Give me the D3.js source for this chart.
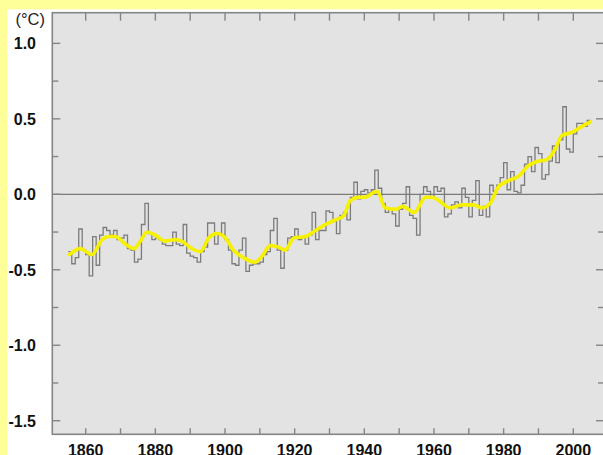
<!DOCTYPE html>
<html><head><meta charset="utf-8">
<script src="https://cdn.jsdelivr.net/npm/d3@7"></script>
<style>html,body{margin:0;padding:0;background:#fff;overflow:hidden}</style>
</head><body>
<svg id="c" width="603" height="455"></svg>
<script>
// ---- data ----
const firstYear = 1856;
const annualAnomaly = [
 -0.38,-0.46,-0.42,-0.23,-0.37,-0.40,-0.54,-0.28,-0.47,-0.27, // 1856-1865
 -0.22,-0.24,-0.27,-0.24,-0.30,-0.29,-0.27,-0.36,-0.37,-0.45, // 1866-1875
 -0.43,-0.20,-0.06,-0.26,-0.30,-0.29,-0.30,-0.33,-0.34,-0.34, // 1876-1885
 -0.25,-0.33,-0.34,-0.20,-0.39,-0.41,-0.42,-0.45,-0.38,-0.35, // 1886-1895
 -0.19,-0.19,-0.33,-0.27,-0.19,-0.30,-0.37,-0.46,-0.47,-0.37, // 1896-1905
 -0.29,-0.51,-0.47,-0.46,-0.46,-0.45,-0.40,-0.38,-0.24,-0.16, // 1906-1915
 -0.37,-0.49,-0.37,-0.29,-0.28,-0.23,-0.30,-0.28,-0.33,-0.27, // 1916-1925
 -0.12,-0.30,-0.24,-0.24,-0.11,-0.12,-0.18,-0.26,-0.14,-0.12, // 1926-1935
 -0.17,-0.02, 0.08,-0.03, 0.02, 0.03, 0.01, 0.03, 0.16, 0.04, // 1936-1945
 -0.06,-0.12,-0.10,-0.13,-0.21,-0.10,-0.06, 0.05,-0.14,-0.16, // 1946-1955
 -0.27, 0.00, 0.05, 0.02,-0.02, 0.05, 0.02, 0.04,-0.15,-0.13, // 1956-1965
 -0.07,-0.05,-0.09, 0.04,-0.02,-0.15,-0.04, 0.09,-0.14,-0.08, // 1966-1975
 -0.15, 0.06, 0.02, 0.06, 0.11, 0.21, 0.03, 0.15, 0.02, 0.01, // 1976-1985
  0.06, 0.20, 0.25, 0.15, 0.31, 0.27, 0.10, 0.13, 0.22, 0.32, // 1986-1995
  0.21, 0.36, 0.58, 0.30, 0.28, 0.40, 0.47, 0.47, 0.45, 0.49  // 1996-2005
];
const smoothYears = [1855.3,1858.4,1861.8,1864.7,1866.6,1868.5,1871.4,1873.8,1875.7,1877.6,1880,1882.8,1885.7,1887.6,1890.5,1892.9,1895.3,1897.7,1900.1,1902.4,1905.3,1908.6,1910.6,1913,1915.4,1917.3,1919.7,1923.1,1926,1928.8,1931.7,1934.1,1936,1938.4,1940,1943.7,1946,1949,1951,1954.3,1957.6,1959.4,1961.3,1964.6,1968,1971.4,1973.7,1976.1,1978.5,1981.4,1984.3,1987.1,1990,1992.4,1994.8,1996.7,1999.6,2002.5,2004.9];
const smoothValues = [-0.40,-0.36,-0.40,-0.30,-0.28,-0.28,-0.33,-0.36,-0.31,-0.25,-0.27,-0.31,-0.30,-0.31,-0.36,-0.38,-0.29,-0.26,-0.29,-0.37,-0.42,-0.45,-0.41,-0.34,-0.35,-0.37,-0.29,-0.28,-0.24,-0.20,-0.17,-0.14,-0.04,-0.02,-0.02,0.02,-0.09,-0.10,-0.08,-0.12,-0.02,-0.02,-0.04,-0.09,-0.07,-0.07,-0.09,-0.06,0.05,0.09,0.12,0.19,0.22,0.23,0.30,0.39,0.41,0.45,0.48];
const yLabels = ["1.0","0.5","0.0","-0.5","-1.0","-1.5"];
const yLabelValues = [1.0,0.5,0.0,-0.5,-1.0,-1.5];
const xLabelYears = [1860,1880,1900,1920,1940,1960,1980,2000];
const unitLabel = "(°C)";

// ---- layout ----
const svg = d3.select("#c");
const L = 52.3, T = 12.7, R = 606, B = 434.3;
const x = d3.scaleLinear().domain([1860, 2000]).range([85.7, 573.3]);
const y = d3.scaleLinear().domain([0, -1.5]).range([194.3, 420.7]);

svg.append("rect").attr("x",0).attr("y",0).attr("width",603).attr("height",455).attr("fill","#fff");
svg.append("rect").attr("x",L).attr("y",T).attr("width",R-L).attr("height",B-T).attr("fill","#e3e3e3");

const g = svg.append("g");
// zero line
g.append("line").attr("x1",L).attr("x2",R).attr("y1",y(0)).attr("y2",y(0))
  .attr("stroke","#7a7a7a").attr("stroke-width",1.2);

// step series: each year's value spans the interval ending at that year
const pts = annualAnomaly.map((v,i)=>[firstYear+i-1, v]);
pts.push([firstYear+annualAnomaly.length-1, annualAnomaly[annualAnomaly.length-1]]);
g.append("path").attr("d", d3.line().x(d=>x(d[0])).y(d=>y(d[1])).curve(d3.curveStepAfter)(pts))
  .attr("fill","none").attr("stroke","#7c7c7c").attr("stroke-width",1.3);

// smoothed
g.append("path").attr("d", d3.line().x((d,i)=>x(smoothYears[i])).y(d=>y(d)).curve(d3.curveMonotoneX)(smoothValues))
  .attr("fill","none").attr("stroke","#f6f100").attr("stroke-width",3.6).attr("stroke-linejoin","round").attr("stroke-linecap","round");

// frame
svg.append("rect").attr("x",L).attr("y",T).attr("width",R-L).attr("height",B-T)
  .attr("fill","none").attr("stroke","#858585").attr("stroke-width",1.6);

// ticks
const yTicks = d3.range(-1.5, 1.01, 0.25);
const tk = svg.append("g").attr("stroke","#858585").attr("stroke-width",1.4);
yTicks.forEach(v=>{
  const major = Math.abs(v*2 - Math.round(v*2))<1e-6;
  const len = major?8:6;
  tk.append("line").attr("x1",L).attr("x2",L+len).attr("y1",y(v)).attr("y2",y(v));
  tk.append("line").attr("x1",603-len+1).attr("x2",R).attr("y1",y(v)).attr("y2",y(v));
});
d3.range(1860, 2001, 10).forEach(yr=>{
  tk.append("line").attr("x1",x(yr)).attr("x2",x(yr)).attr("y1",B).attr("y2",B-6);
  tk.append("line").attr("x1",x(yr)).attr("x2",x(yr)).attr("y1",T).attr("y2",T+8);
});

// labels
const font = "'Liberation Sans', Arial, Helvetica, sans-serif";
yLabelValues.forEach((v,i)=>{
  svg.append("text").attr("x",36).attr("y",y(v)+6).attr("text-anchor","end")
    .attr("font-family",font).attr("font-weight","bold").attr("font-size",16).attr("fill","#111")
    .text(yLabels[i]);
});
xLabelYears.forEach(yr=>{
  svg.append("text").attr("x",x(yr)).attr("y",455.5).attr("text-anchor","middle")
    .attr("font-family",font).attr("font-weight","bold").attr("font-size",16).attr("fill","#111")
    .text(yr);
});
svg.append("text").attr("x",45).attr("y",25).attr("text-anchor","end")
  .attr("font-family",font).attr("font-size",16.5).attr("fill","#222").text(unitLabel);

// yellow border
svg.append("rect").attr("x",0).attr("y",0).attr("width",7.3).attr("height",455).attr("fill","#ffff99");
svg.append("rect").attr("x",0).attr("y",0).attr("width",603).attr("height",9.3).attr("fill","#ffff99");
</script>
</body></html>
